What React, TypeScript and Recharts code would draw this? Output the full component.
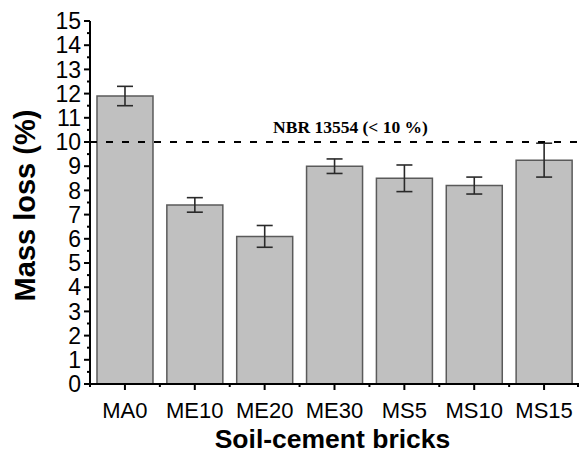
import React from 'react';
import { BarChart, Bar, XAxis, YAxis, ReferenceLine, ErrorBar } from 'recharts';

const categories = ['MA0', 'ME10', 'ME20', 'ME30', 'MS5', 'MS10', 'MS15'];
const massLoss = [11.9, 7.4, 6.1, 9.0, 8.5, 8.2, 9.25];
const massLossErr = [0.4, 0.3, 0.45, 0.3, 0.55, 0.35, 0.7];
const yTicks = Array.from({ length: 31 }, (_, i) => i * 0.5);
const limitValue = 10;
const limitLabel = 'NBR 13554 (< 10 %)';

const data = categories.map((name, i) => ({ name, loss: massLoss[i], err: massLossErr[i] }));

const W = 579;
const H = 454;
const M = { top: 21, right: 0, left: 0, bottom: 0 };
const Y_W = 90;
const X_H = 70;
const band = (W - M.left - M.right - Y_W) / categories.length;
const SANS = 'Liberation Sans, Arial, sans-serif';

const YTick = ({ x, y, payload }: any) => {
  const major = Number.isInteger(payload.value);
  return (
    <g>
      <line x1={x - (major ? 6 : 3)} x2={x} y1={y} y2={y} stroke="#000" strokeWidth={2} />
      {major && (
        <text x={x - 9} y={y} dy="0.36em" textAnchor="end" fontSize={23} fill="#000" fontFamily={SANS}>
          {payload.value}
        </text>
      )}
    </g>
  );
};

const XTick = ({ x, y, payload, index }: any) => (
  <g>
    <line x1={x} x2={x} y1={y} y2={y + 6} stroke="#000" strokeWidth={2} />
    <line x1={x - band / 2} x2={x - band / 2} y1={y} y2={y + 3} stroke="#000" strokeWidth={2} />
    {index === categories.length - 1 && (
      <line x1={x + band / 2 - 1} x2={x + band / 2 - 1} y1={y} y2={y + 3} stroke="#000" strokeWidth={2} />
    )}
    <text x={x} y={y + 34} textAnchor="middle" fontSize={22} fill="#000" fontFamily={SANS}>
      {payload.value}
    </text>
  </g>
);

const XTitle = ({ viewBox }: any) => (
  <text x={viewBox.x + viewBox.width / 2 - 2} y={448} textAnchor="middle" fontSize={26.5} fontWeight="bold" fill="#000" fontFamily={SANS}>
    Soil-cement bricks
  </text>
);

const YTitle = ({ viewBox }: any) => {
  const cy = viewBox.y + viewBox.height / 2 + 3;
  return (
    <text x={35} y={cy} transform={`rotate(-90, 35, ${cy})`} textAnchor="middle" fontSize={29} fontWeight="bold" fill="#000" fontFamily={SANS}>
      Mass loss (%)
    </text>
  );
};

export default function App() {
  return (
    <div style={{ position: 'absolute', left: 0, top: 0, background: '#fff' }}>
      <BarChart width={W} height={H} data={data} margin={M} barCategoryGap="10%">
        <XAxis
          dataKey="name"
          height={X_H}
          axisLine={{ stroke: '#000', strokeWidth: 2 }}
          tickLine={false}
          tickSize={0}
          tickMargin={0}
          tick={<XTick />}
          interval={0}
          label={<XTitle />}
        />
        <YAxis
          width={Y_W}
          domain={[0, 15]}
          ticks={yTicks}
          interval={0}
          axisLine={{ stroke: '#000', strokeWidth: 2 }}
          tickLine={false}
          tickSize={0}
          tickMargin={0}
          tick={<YTick />}
          label={<YTitle />}
        />
        <Bar dataKey="loss" fill="#c0c0c0" stroke="#5a5a5a" strokeWidth={1.5} isAnimationActive={false}>
          <ErrorBar dataKey="err" width={8} stroke="#2a2a2a" strokeWidth={1.6} direction="y" />
        </Bar>
        <ReferenceLine
          y={limitValue}
          stroke="#000"
          strokeWidth={2}
          strokeDasharray="7 9"
          label={{
            value: limitLabel,
            position: 'top',
            offset: 9,
            dx: 16,
            style: { fontSize: 17.5, fontWeight: 'bold', fill: '#000', fontFamily: 'Liberation Serif, Times New Roman, serif' },
          }}
        />
      </BarChart>
    </div>
  );
}
